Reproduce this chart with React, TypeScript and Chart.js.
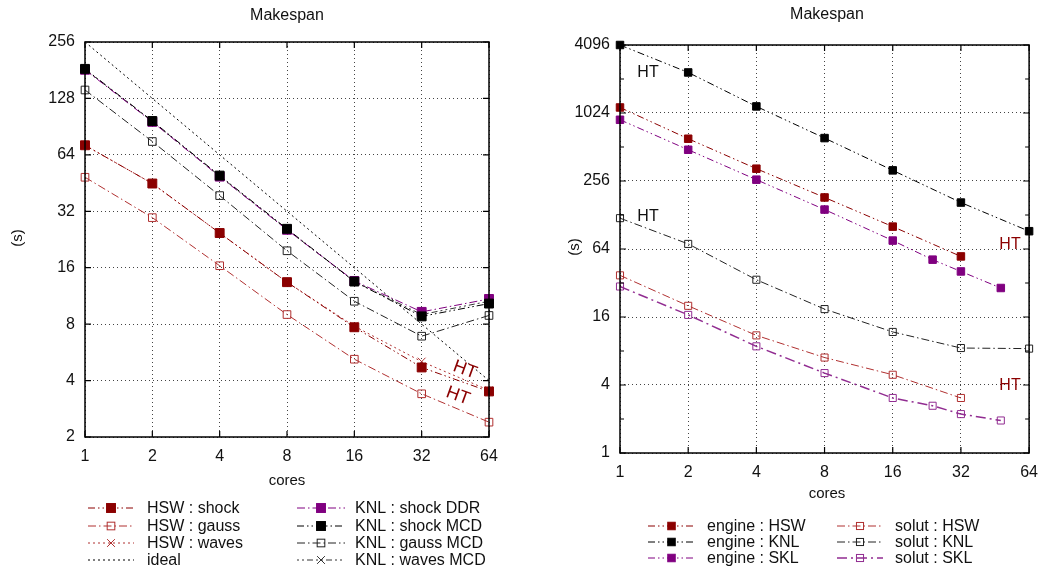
import React, { useEffect, useRef } from "react";
import { Chart, registerables } from "chart.js";

Chart.register(...registerables);

const FONT = '"Liberation Sans", Arial, Helvetica, sans-serif';

// ---------- Left panel data ----------
const leftCores = [1, 2, 4, 8, 16, 32, 64];
const leftYTicks = [2, 4, 8, 16, 32, 64, 128, 256];
const hswShock = [72, 45, 24.5, 13.4, 7.7, 4.7, 3.5];
const hswGauss = [48.6, 29.6, 16.4, 9.0, 5.2, 3.4, 2.4];
const hswWaves = [72, 45, 24.5, 13.4, 7.8, 5.05, 3.55];
const idealSpeed = [256, 128, 64, 32, 16, 8, 4];
const knlShockDDR = [182, 96, 49, 25.5, 13.6, 9.3, 10.9];
const knlShockMCD = [184, 97, 49.6, 25.8, 13.5, 8.8, 10.3];
const knlGaussMCD = [142, 75.4, 38.8, 19.7, 10.6, 6.9, 8.9];
const knlWavesMCD = [183, 96.5, 49.3, 25.6, 13.5, 9.0, 10.6];

// ---------- Right panel data ----------
const rightCores = [1, 2, 4, 8, 16, 32, 64];
const sklCores = [1, 2, 4, 8, 16, 24, 32, 48];
const rightYTicks = [1, 4, 16, 64, 256, 1024, 4096];
const rightYMinor = [2, 8, 32, 128, 512, 2048];
const engineHSW = [1146, 606, 329, 183, 101, 55];
const engineKNL = [4096, 2340, 1171, 614, 318, 165, 92];
const engineSKL = [892, 484, 263, 143, 76, 51.5, 40.5, 28.9];
const solutHSW = [37.4, 20.1, 11.0, 7.0, 4.93, 3.07];
const solutKNL = [120, 71, 34.2, 18.8, 11.8, 8.5, 8.4];
const solutSKL = [29.8, 16.7, 8.8, 5.1, 3.07, 2.62, 2.21, 1.94];

type Style = {
  color: string;
  dash: number[];
  width?: number;
  marker: "rect" | "crossRot" | null;
  filled?: boolean;
  r?: number;
  order?: number;
};

type Series = { label: string; xs: number[]; ys: number[]; st: Style };

const DASH_DD = [7, 3, 1.5, 3, 1.5, 3];
const DASH_D = [8, 3, 1.5, 3];
const DOT = [2, 3];

const leftSeries: Series[] = [
  { label: "HSW : shock", xs: leftCores, ys: hswShock, st: { color: "#8b0000", dash: DASH_DD, marker: "rect", filled: true, r: 6.3 } },
  { label: "HSW : gauss", xs: leftCores, ys: hswGauss, st: { color: "#b03030", dash: DASH_D, marker: "rect", filled: false, r: 5.4 } },
  { label: "HSW : waves", xs: leftCores, ys: hswWaves, st: { color: "#b03030", dash: DOT, marker: "crossRot", r: 5.5, order: 1 } },
  { label: "ideal", xs: leftCores, ys: idealSpeed, st: { color: "#000000", dash: DOT, marker: null } },
  { label: "KNL : shock DDR", xs: leftCores, ys: knlShockDDR, st: { color: "#800080", dash: DASH_D, marker: "rect", filled: true, r: 6.3, order: 2 } },
  { label: "KNL : shock MCD", xs: leftCores, ys: knlShockMCD, st: { color: "#000000", dash: DASH_DD, marker: "rect", filled: true, r: 6.3 } },
  { label: "KNL : gauss MCD", xs: leftCores, ys: knlGaussMCD, st: { color: "#222222", dash: DASH_D, marker: "rect", filled: false, r: 5.4 } },
  { label: "KNL : waves MCD", xs: leftCores, ys: knlWavesMCD, st: { color: "#333333", dash: [2, 3, 2, 3, 6, 3], marker: "crossRot", r: 5.5, order: 3 } },
];

const rightSeries: Series[] = [
  { label: "engine : HSW", xs: rightCores, ys: engineHSW, st: { color: "#8b0000", dash: DASH_DD, marker: "rect", filled: true, r: 5.3 } },
  { label: "engine : KNL", xs: rightCores, ys: engineKNL, st: { color: "#000000", dash: DASH_DD, marker: "rect", filled: true, r: 5.3 } },
  { label: "engine : SKL", xs: sklCores, ys: engineSKL, st: { color: "#800080", dash: DASH_DD, marker: "rect", filled: true, r: 5.3 } },
  { label: "solut : HSW", xs: rightCores, ys: solutHSW, st: { color: "#b03030", dash: DASH_D, marker: "rect", filled: false, r: 5.0 } },
  { label: "solut : KNL", xs: rightCores, ys: solutKNL, st: { color: "#222222", dash: DASH_D, marker: "rect", filled: false, r: 5.0 } },
  { label: "solut : SKL", xs: sklCores, ys: solutSKL, st: { color: "#912c91", dash: [10, 4, 2, 4], width: 1.5, marker: "rect", filled: false, r: 5.0 } },
];

type Note = { text: string; x: number; y: number; color: string; size: number; rot: number };

type Panel = {
  series: Series[];
  xTicks: number[];
  yTicks: number[];
  yMinor: number[];
  yMin: number;
  yMax: number;
  yWidth: number;
  padTop: number;
  padRight: number;
  padBottom: number;
  title: [number, number];
  yTitle: [number, number];
  xTitle: [number, number];
  notes: Note[];
  legendCols: { sx1: number; sx2: number; tx: number }[];
  legendRows: number[];
  perCol: number;
};

function drawMarker(ctx: CanvasRenderingContext2D, st: Style, cx: number, cy: number) {
  if (!st.marker) return;
  const h = (st.r || 5) * Math.SQRT1_2;
  ctx.save();
  ctx.setLineDash([]);
  ctx.lineWidth = 1;
  ctx.strokeStyle = st.color;
  ctx.fillStyle = st.color;
  if (st.marker === "rect") {
    if (st.filled) ctx.fillRect(cx - h, cy - h, 2 * h, 2 * h);
    ctx.strokeRect(cx - h, cy - h, 2 * h, 2 * h);
  } else {
    ctx.beginPath();
    ctx.moveTo(cx - h, cy - h);
    ctx.lineTo(cx + h, cy + h);
    ctx.moveTo(cx + h, cy - h);
    ctx.lineTo(cx - h, cy + h);
    ctx.stroke();
  }
  ctx.restore();
}

function makePlugin(p: Panel) {
  return {
    id: "deco",
    afterDraw(chart: any) {
      const ctx: CanvasRenderingContext2D = chart.ctx;
      const { left, right, top, bottom } = chart.chartArea;
      const xs = chart.scales.x;
      const ys = chart.scales.y;
      ctx.save();
      // frame
      ctx.setLineDash([]);
      ctx.strokeStyle = "#000";
      ctx.lineWidth = 1.5;
      ctx.strokeRect(left, top, right - left, bottom - top);
      // inner ticks
      ctx.lineWidth = 1.2;
      ctx.beginPath();
      for (const v of p.xTicks) {
        const px = xs.getPixelForValue(v);
        ctx.moveTo(px, bottom);
        ctx.lineTo(px, bottom - 6);
        ctx.moveTo(px, top);
        ctx.lineTo(px, top + 6);
      }
      for (const v of p.yTicks) {
        const py = ys.getPixelForValue(v);
        ctx.moveTo(left, py);
        ctx.lineTo(left + 6, py);
        ctx.moveTo(right, py);
        ctx.lineTo(right - 6, py);
      }
      for (const v of p.yMinor) {
        const py = ys.getPixelForValue(v);
        ctx.moveTo(left, py);
        ctx.lineTo(left + 4, py);
        ctx.moveTo(right, py);
        ctx.lineTo(right - 4, py);
      }
      ctx.stroke();

      // texts
      ctx.fillStyle = "#111";
      ctx.textAlign = "center";
      ctx.textBaseline = "middle";
      ctx.font = `16px ${FONT}`;
      ctx.fillText("Makespan", p.title[0], p.title[1]);
      ctx.font = `15px ${FONT}`;
      ctx.fillText("cores", p.xTitle[0], p.xTitle[1]);
      ctx.save();
      ctx.translate(p.yTitle[0], p.yTitle[1]);
      ctx.rotate(-Math.PI / 2);
      ctx.fillText("(s)", 0, 0);
      ctx.restore();

      for (const n of p.notes) {
        ctx.save();
        ctx.translate(n.x, n.y);
        ctx.rotate((n.rot * Math.PI) / 180);
        ctx.fillStyle = n.color;
        ctx.font = `${n.size}px ${FONT}`;
        ctx.fillText(n.text, 0, 0);
        ctx.restore();
      }

      // legend
      ctx.font = `16px ${FONT}`;
      ctx.textAlign = "left";
      p.series.forEach((s, i) => {
        const col = Math.floor(i / p.perCol);
        const row = i % p.perCol;
        const c = p.legendCols[col];
        const y = p.legendRows[row];
        ctx.save();
        ctx.strokeStyle = s.st.color;
        ctx.lineWidth = s.st.width || 1;
        ctx.setLineDash(s.st.dash);
        ctx.beginPath();
        ctx.moveTo(c.sx1, y);
        ctx.lineTo(c.sx2, y);
        ctx.stroke();
        ctx.restore();
        drawMarker(ctx, s.st, (c.sx1 + c.sx2) / 2, y);
        ctx.fillStyle = "#111";
        ctx.fillText(s.label, c.tx, y + 1);
      });
      ctx.restore();
    },
  };
}

function buildConfig(p: Panel): any {
  const datasets = p.series.map((s) => ({
    label: s.label,
    data: s.ys.map((y, i) => ({ x: s.xs[i], y })),
    order: s.st.order || 0,
    borderColor: s.st.color,
    borderWidth: s.st.width || 1,
    borderDash: s.st.dash,
    pointStyle: s.st.marker || "circle",
    pointRadius: s.st.marker ? s.st.r : 0,
    pointHoverRadius: s.st.marker ? s.st.r : 0,
    pointBorderColor: s.st.color,
    pointBackgroundColor: s.st.filled ? s.st.color : "rgba(0,0,0,0)",
    pointBorderWidth: 1,
    fill: false,
    tension: 0,
    clip: false,
  }));
  const tickFont = { family: FONT, size: 16 };
  return {
    type: "line",
    data: { datasets },
    options: {
      responsive: false,
      animation: false,
      devicePixelRatio: 1,
      events: [],
      layout: { padding: { left: 0, top: p.padTop, right: p.padRight, bottom: p.padBottom } },
      plugins: { legend: { display: false }, tooltip: { enabled: false }, title: { display: false } },
      scales: {
        x: {
          type: "logarithmic",
          min: 1,
          max: 64,
          afterBuildTicks: (sc: any) => {
            sc.ticks = p.xTicks.map((v) => ({ value: v }));
          },
          afterFit: (sc: any) => {
            sc.height = 30;
          },
          ticks: { callback: (v: any) => String(v), font: tickFont, color: "#111", padding: 10, maxRotation: 0, autoSkip: false },
          grid: { color: "#444", lineWidth: 1, drawTicks: false },
          border: { display: false, dash: [1, 3] },
        },
        y: {
          type: "logarithmic",
          min: p.yMin,
          max: p.yMax,
          afterBuildTicks: (sc: any) => {
            sc.ticks = p.yTicks.map((v) => ({ value: v }));
          },
          afterFit: (sc: any) => {
            sc.width = p.yWidth;
          },
          ticks: { callback: (v: any) => String(v), font: tickFont, color: "#111", padding: 10, autoSkip: false },
          grid: { color: "#444", lineWidth: 1, drawTicks: false },
          border: { display: false, dash: [1, 3] },
        },
      },
    },
    plugins: [makePlugin(p)],
  };
}

const leftPanel: Panel = {
  series: leftSeries,
  xTicks: leftCores,
  yTicks: leftYTicks,
  yMinor: [],
  yMin: 2,
  yMax: 256,
  yWidth: 85,
  padTop: 42,
  padRight: 35,
  padBottom: 105,
  title: [287, 16],
  yTitle: [18, 238],
  xTitle: [287, 481],
  notes: [
    { text: "HT", x: 465, y: 370, color: "#8b0000", size: 18, rot: 20 },
    { text: "HT", x: 458, y: 396, color: "#8b0000", size: 18, rot: 20 },
  ],
  legendCols: [
    { sx1: 88, sx2: 134, tx: 147 },
    { sx1: 297, sx2: 345, tx: 355 },
  ],
  legendRows: [508, 526, 543, 560],
  perCol: 4,
};

const rightPanel: Panel = {
  series: rightSeries,
  xTicks: rightCores,
  yTicks: rightYTicks,
  yMinor: rightYMinor,
  yMin: 1,
  yMax: 4096,
  yWidth: 96,
  padTop: 45,
  padRight: 13,
  padBottom: 89,
  title: [303, 15],
  yTitle: [51, 247],
  xTitle: [303, 494],
  notes: [
    { text: "HT", x: 124, y: 73, color: "#111", size: 16, rot: 0 },
    { text: "HT", x: 124, y: 217, color: "#111", size: 16, rot: 0 },
    { text: "HT", x: 486, y: 245, color: "#8b0000", size: 16, rot: 0 },
    { text: "HT", x: 486, y: 386, color: "#8b0000", size: 16, rot: 0 },
  ],
  legendCols: [
    { sx1: 124, sx2: 171, tx: 183 },
    { sx1: 313, sx2: 359, tx: 371 },
  ],
  legendRows: [526, 542, 558],
  perCol: 3,
};

function ChartPanel({ panel }: { panel: Panel }) {
  const ref = useRef<HTMLCanvasElement | null>(null);
  useEffect(() => {
    if (!ref.current) return;
    const chart = new Chart(ref.current, buildConfig(panel));
    return () => chart.destroy();
  }, [panel]);
  return <canvas ref={ref} width={524} height={572} style={{ display: "block", width: 524, height: 572 }} />;
}

export default function App() {
  return (
    <div
      style={{
        position: "fixed",
        left: 0,
        top: 0,
        width: 1048,
        height: 572,
        background: "#fff",
        display: "flex",
        flexDirection: "row",
      }}
    >
      <ChartPanel panel={leftPanel} />
      <ChartPanel panel={rightPanel} />
    </div>
  );
}
